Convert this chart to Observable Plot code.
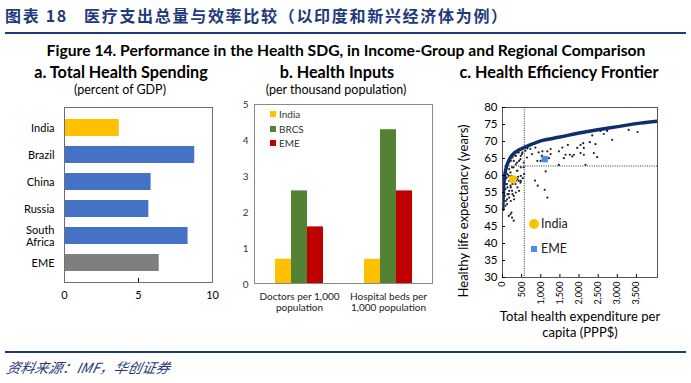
<!DOCTYPE html>
<html><head><meta charset="utf-8">
<script src="https://cdn.jsdelivr.net/npm/d3@7"></script>
<script src="https://cdn.jsdelivr.net/npm/@observablehq/plot@0.6"></script>
<style>
body{margin:0;background:#fff;}
#root{position:relative;width:691px;height:383px;overflow:hidden;font-family:Lato,"Open Sans",sans-serif;color:#000;background:#fff;}
.abs{position:absolute;white-space:nowrap;}
.c{transform:translateX(-50%);text-align:center;}
</style></head><body><div id="root"></div>
<script>
// ---------- data ----------
const spendCountries = ["India","Brazil","China","Russia","South Africa","EME"];
const spendValues = [3.7, 8.8, 5.85, 5.7, 8.35, 6.4];

const inputCategories = ["Doctors per 1,000\npopulation", "Hospital beds per\n1,000 population"];
const inputSeries = ["India","BRCS","EME"];
const indiaInputs = [0.7, 0.7];
const brcsInputs = [2.6, 4.3];
const emeInputs = [1.6, 2.6];

const frontierX = [8, 20, 40, 78, 130, 208, 300, 424, 560, 771, 1000, 1500, 2000, 2734, 3600, 4050];
const frontierY = [50, 54, 58, 61.4, 63.5, 65.3, 66.5, 67.5, 68.2, 69.2, 70.2, 71.3, 72.5, 73.9, 75.4, 76];

const scatterX = [3297,3531,2865,2646,2560,2734,2344,2282,2430,2386,2474,2109,2039,2125,2039,2125,1953,1865,2169,1708,1563,1474,1760,1823,1604,1648,1474,1128,1102,1172,1042,1172,1258,1214,1042,1258,
  599,729,859,945,771,641,510,424,339,469,294,380,555,164,120,250,208,380,164,78,339,424,120,208,339,469,78,250,164,60,294,120,34,78,8,5,850,920,555,
  120,208,250,164,294,234, 43,87,130,26,174,217,260,130,87,174,347,391,434,304,234,130,87,174,286,391,478,347,434,217,130,260,347,478,391,521,304,217,434,260,347,478,564,530,408,113,174,217,304,43,391,478,1024,998,911,651];
const scatterY = [73.4,72.8,70.5,72.2,73.1,73.1,71.8,69.8,69.2,66.6,65.4,69.5,69.0,68.1,66.6,66.1,68.1,66.1,63.1,69.0,68.2,67.1,66.1,65.6,65.1,66.1,63.1,61.2,55.8,53.5,67.1,67.1,66.3,65.1,65.6,67.8,
  67.3,67.8,68.2,66.8,66.3,65.3,66.3,66.8,65.8,64.8,64.3,63.8,63.8,63.8,62.4,62.4,60.9,61.4,59.9,58.9,59.4,58.4,57.5,57.0,57.5,57.9,56.0,55.5,54.5,54.0,54.0,53.0,52.6,51.1,50.4,51.6,58.5,57.0,62.4,
  51.6,48.6,47.6,48.1,46.7,49.1, 55.0,52.5,54.5,53.5,55.5,56.5,57.5,56.5,57.5,58.4,58.4,56.5,55.5,59.4,59.9,60.4,61.4,61.9,62.4,61.4,62.4,63.3,64.3,64.3,63.3,65.3,65.8,65.8,66.8,66.8,66.8,65.8,67.7,54.5,55.0,58.4,60.4,59.2,59.6,59.4,53.5,52.5,53.0,56.5,58.9,59.9,65.8,64.3,64.3,68.0];

const indiaPoint = [268, 58.9];
const emePoint = [1102, 64.8];
const spendThreshold = 570;
const lifeThreshold = 62.8;

const xTicksC = [0,500,1000,1500,2000,2500,3000,3500];
const yTicksC = [30,35,40,45,50,55,60,65,70,75,80];

// ---------- colours ----------
const YELLOW = "#FFC000", BLUE = "#4472C4", GRAY = "#7F7F7F", GREEN = "#548235", RED = "#C00000", NAVY = "#0E2F6E", EMEBLUE = "#4A8FE7";

const root = document.getElementById("root");
function addDiv(html, css, cls) {
  const d = document.createElement("div");
  d.className = "abs " + (cls || "");
  d.innerHTML = html;
  Object.assign(d.style, css);
  root.appendChild(d);
  return d;
}
function place(node, left, top) {
  node.style.position = "absolute";
  node.style.left = left + "px";
  node.style.top = top + "px";
  root.appendChild(node);
}

// ---------- header / footer ----------
addDiv("图表 18&nbsp;&nbsp;&nbsp;医疗支出总量与效率比较（以印度和新兴经济体为例）",
  {left:"5px", top:"4px", fontFamily:"'Noto Sans CJK SC',sans-serif", fontWeight:"700", fontSize:"16px", letterSpacing:"1.7px", color:"#1F3A7A", lineHeight:"22px"});
addDiv("", {left:"5px", top:"32px", width:"681px", height:"2px", background:"#1F3A7A"});
addDiv("", {left:"5px", top:"351px", width:"681px", height:"2px", background:"#1F3A7A"});
addDiv("资料来源：IMF，华创证券",
  {left:"7px", top:"357px", fontFamily:"'Noto Sans CJK SC',serif", fontStyle:"italic", fontSize:"14px", color:"#1F3A7A", lineHeight:"20px", transform:"skewX(-12deg)"});

addDiv("Figure 14. Performance in the Health SDG, in Income-Group and Regional Comparison",
  {left:"346px", top:"41px", fontWeight:"700", fontSize:"15.7px", lineHeight:"19px"}, "c");

// panel titles
addDiv("a. Total Health Spending", {left:"121px", top:"62px", fontWeight:"700", fontSize:"16.2px", lineHeight:"19px"}, "c");
addDiv("(percent of GDP)", {left:"120px", top:"82px", fontSize:"12.5px", lineHeight:"16px"}, "c");
addDiv("b. Health Inputs", {left:"337px", top:"62px", fontWeight:"700", fontSize:"16.2px", lineHeight:"19px"}, "c");
addDiv("(per thousand population)", {left:"336px", top:"82px", fontSize:"12.5px", lineHeight:"16px"}, "c");
addDiv("c. Health Efficiency Frontier", {left:"559px", top:"62px", fontWeight:"700", fontSize:"16.2px", lineHeight:"19px"}, "c");

// ---------- panel a ----------
const spendTable = spendCountries.map((c, i) => ({country: c, value: spendValues[i],
  color: c === "India" ? YELLOW : c === "EME" ? GRAY : BLUE}));
const plotA = Plot.plot({
  width: 230, height: 210,
  marginLeft: 64, marginRight: 18, marginTop: 7, marginBottom: 28,
  style: {fontFamily: "Lato, sans-serif", fontSize: "11px", background: "transparent", color: "#000"},
  x: {domain: [0, 10], label: null},
  y: {domain: spendCountries, padding: 0.38, label: null},
  color: {type: "identity"},
  marks: [
    Plot.barX(spendTable, {x: "value", y: "country", fill: "color"}),
    Plot.frame({stroke: "#6f6f6f"}),
    Plot.axisX({ticks: [0, 5, 10], tickSize: 0, tickPadding: 9, label: null}),
    Plot.axisX({ticks: [5], tickSize: -4, tickFormat: () => "", label: null}),
    Plot.axisY({tickSize: 0, tickPadding: 10, label: null, lineHeight: 1.15, tickFormat: d => d.replace(" ", "\n")})
  ]
});
place(plotA, 0, 100);

// ---------- panel b ----------
const inputTable = [];
inputCategories.forEach((cat, i) => {
  inputTable.push({category: cat, series: "India", value: indiaInputs[i]});
  inputTable.push({category: cat, series: "BRCS", value: brcsInputs[i]});
  inputTable.push({category: cat, series: "EME", value: emeInputs[i]});
});
const plotB = Plot.plot({
  width: 210, height: 230,
  marginLeft: 24, marginRight: 7, marginTop: 9, marginBottom: 41,
  style: {fontFamily: "Lato, sans-serif", fontSize: "10px", background: "transparent", color: "#000"},
  fx: {domain: inputCategories, paddingInner: 0.44, paddingOuter: 0.22, label: null},
  x: {domain: inputSeries, padding: 0, axis: null},
  y: {domain: [0, 5], label: null},
  color: {domain: inputSeries, range: [YELLOW, GREEN, RED]},
  marks: [
    Plot.barY(inputTable, {fx: "category", x: "series", y: "value", fill: "series"}),
    Plot.axisFx({anchor: "bottom", tickSize: 0, tickPadding: 7, lineHeight: 1.15, label: null, fill: "#222"}),
    Plot.axisY({ticks: [0, 1, 2, 3, 4, 5], tickFormat: d3.format("d"), tickSize: 0, tickPadding: 26, label: null, fill: "#333"})
  ]
});
place(plotB, 230, 95);
addDiv("", {left:"254px", top:"104px", width:"179px", height:"180px", border:"1px solid #8a8a8a", boxSizing:"border-box"});
inputSeries.forEach((s, i) => {
  const col = [YELLOW, GREEN, RED][i];
  addDiv("", {left:"270px", top:(111 + i*14.5) + "px", width:"6px", height:"6px", background: col});
  addDiv(s, {left:"279px", top:(107 + i*14.5) + "px", fontSize:"10px", lineHeight:"14px", color:"#333"});
});

// ---------- panel c ----------
const scatter = scatterX.map((x, i) => ({x, y: scatterY[i]}));
const frontier = frontierX.map((x, i) => ({x, y: frontierY[i]}));
const plotC = Plot.plot({
  width: 251, height: 230,
  marginLeft: 62, marginRight: 34, marginTop: 12, marginBottom: 48,
  style: {fontFamily: "Lato, sans-serif", fontSize: "11.5px", background: "transparent", color: "#000"},
  x: {domain: [0, 4050], label: null},
  y: {domain: [30, 80], label: null},
  marks: [
    Plot.ruleX([spendThreshold], {stroke: "#333", strokeDasharray: "1,1.3", strokeWidth: 1}),
    Plot.ruleY([lifeThreshold], {stroke: "#333", strokeDasharray: "1,1.3", strokeWidth: 1}),
    Plot.dot(scatter, {x: "x", y: "y", r: 1.1, fill: "#222", stroke: "none"}),
    Plot.line(frontier, {x: "x", y: "y", curve: "catmull-rom", stroke: NAVY, strokeWidth: 3.5, clip: true}),
    Plot.dot([indiaPoint], {x: d => d[0], y: d => d[1], r: 4, fill: YELLOW}),
    Plot.dot([emePoint], {x: d => d[0], y: d => d[1], symbol: "square", r: 3.6, fill: EMEBLUE}),
    Plot.frame({stroke: "#555"}),
    Plot.axisX({ticks: xTicksC, tickRotate: -90, tickSize: 0, tickPadding: 4, tickFormat: d3.format(","), fontSize: 9, label: null}),
    Plot.axisX({ticks: xTicksC, tickSize: -3, tickFormat: () => "", label: null}),
    Plot.axisY({ticks: yTicksC, tickSize: 0, tickPadding: 5, label: null}),
    Plot.axisY({ticks: yTicksC, tickSize: -3, tickFormat: () => "", label: null})
  ]
});
place(plotC, 440, 95);
addDiv("", {left:"529px", top:"219px", width:"10px", height:"10px", borderRadius:"50%", background: YELLOW});
addDiv("India", {left:"541px", top:"215px", fontSize:"12.5px", lineHeight:"18px", color:"#222"});
addDiv("", {left:"531px", top:"246px", width:"6px", height:"6px", background: EMEBLUE});
addDiv("EME", {left:"541px", top:"240px", fontSize:"12.5px", lineHeight:"18px", color:"#222"});
addDiv("Healthy life expectancy (years)", {left:"463px", top:"211px", fontSize:"13px", lineHeight:"16px", transform:"translate(-50%,-50%) rotate(-90deg)"});
addDiv("Total health expenditure per<br>capita (PPP$)", {left:"580px", top:"309px", fontSize:"13px", lineHeight:"15.5px"}, "c");
</script></body></html>
